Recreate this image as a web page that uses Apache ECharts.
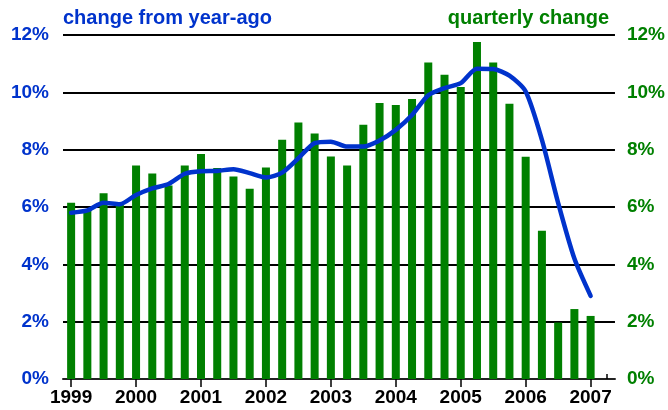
<!DOCTYPE html>
<html>
<head>
<meta charset="utf-8">
<script src="https://cdn.jsdelivr.net/npm/echarts@6/dist/echarts.min.js"></script>
<style>
html,body{margin:0;padding:0;background:#fff;}
#chart{width:668px;height:410px;}
</style>
</head>
<body>
<div id="chart"></div>
<script>
// Categories: quarters 1999Q1 .. 2007Q2 (last slot empty)
var quarters = [
  '1999Q1','1999Q2','1999Q3','1999Q4',
  '2000Q1','2000Q2','2000Q3','2000Q4',
  '2001Q1','2001Q2','2001Q3','2001Q4',
  '2002Q1','2002Q2','2002Q3','2002Q4',
  '2003Q1','2003Q2','2003Q3','2003Q4',
  '2004Q1','2004Q2','2004Q3','2004Q4',
  '2005Q1','2005Q2','2005Q3','2005Q4',
  '2006Q1','2006Q2','2006Q3','2006Q4',
  '2007Q1','2007Q2'
];
// Quarterly change (%), green bars
var quarterlyChange = [
  6.15, 5.90, 6.48, 6.13,
  7.45, 7.17, 6.75, 7.45,
  7.85, 7.36, 7.06, 6.64,
  7.38, 8.35, 8.95, 8.56,
  7.76, 7.45, 8.87, 9.63,
  9.56, 9.77, 11.04, 10.61,
  10.19, 11.76, 11.04, 9.60,
  7.75, 5.17, 1.97, 2.44,
  2.20, null
];
// Change from year-ago (%), blue line
var yearAgoChange = [
  5.80, 5.88, 6.15, 6.10,
  6.42, 6.65, 6.80, 7.16,
  7.25, 7.26, 7.32, 7.18,
  7.03, 7.20, 7.70, 8.23,
  8.28, 8.11, 8.11, 8.32,
  8.69, 9.21, 9.90, 10.15,
  10.32, 10.82, 10.81, 10.58,
  10.03, 8.34, 6.14, 4.20,
  2.90, null
];
var yTicks = [0, 2, 4, 6, 8, 10, 12];

var FONT = '"Liberation Sans", Arial, Helvetica, sans-serif';
var BLUE = '#0033cc';
var GREEN = '#008000';

var chart = echarts.init(document.getElementById('chart'), null, {renderer: 'canvas'});
var yMax = yTicks[yTicks.length - 1];
var yStep = yTicks[1] - yTicks[0];

function isYear(i) { return i % 4 === 0 && i < 33; }

chart.setOption({
  animation: false,
  backgroundColor: '#ffffff',
  grid: {left: 63, right: 52, top: 35, bottom: 31, containLabel: false},
  graphic: [
    {type: 'text', left: 63, top: 8, style: {text: 'change from year-ago', fill: BLUE, font: 'bold 20px ' + FONT}},
    {type: 'text', right: 59, top: 8, style: {text: 'quarterly change', fill: GREEN, font: 'bold 20px ' + FONT}}
  ],
  xAxis: [
    {
      type: 'category',
      data: quarters,
      boundaryGap: true,
      axisLine: {show: true, lineStyle: {color: '#222', width: 2}},
      axisTick: {show: true, alignWithLabel: true, length: 8, inside: false,
        interval: function (i) { return isYear(i); },
        lineStyle: {color: '#000', width: 1.5}},
      axisLabel: {show: true, margin: 9, color: '#000', fontFamily: FONT, fontWeight: 'bold', fontSize: 19,
        interval: function (i) { return isYear(i); },
        formatter: function (v) { return v.slice(0, 4); }},
      splitLine: {show: false}
    },
    {
      type: 'category',
      data: quarters,
      boundaryGap: true,
      position: 'bottom',
      axisLine: {show: false},
      axisTick: {show: true, alignWithLabel: true, length: 5, inside: true,
        interval: function (i) { return i % 4 === 0 || i === 33; },
        lineStyle: {color: '#000', width: 1.5}},
      axisLabel: {show: false},
      splitLine: {show: false}
    }
  ],
  yAxis: [
    {
      type: 'value', min: 0, max: yMax, interval: yStep, position: 'left',
      axisLine: {show: false}, axisTick: {show: false},
      splitLine: {show: true, lineStyle: {color: '#000', width: 2}},
      axisLabel: {margin: 14, color: BLUE, fontFamily: FONT, fontWeight: 'bold', fontSize: 19,
        formatter: '{value}%'}
    },
    {
      type: 'value', min: 0, max: yMax, interval: yStep, position: 'right',
      axisLine: {show: false}, axisTick: {show: false},
      splitLine: {show: false},
      axisLabel: {margin: 12, color: GREEN, fontFamily: FONT, fontWeight: 'bold', fontSize: 19,
        formatter: '{value}%'}
    }
  ],
  series: [
    {
      name: 'quarterly change', type: 'bar', xAxisIndex: 0, yAxisIndex: 1,
      data: quarterlyChange, barWidth: 8,
      itemStyle: {color: GREEN}, z: 2
    },
    {
      name: 'change from year-ago', type: 'line', xAxisIndex: 0, yAxisIndex: 0,
      data: yearAgoChange, smooth: 0.25, symbol: 'none',
      lineStyle: {color: BLUE, width: 4.5, cap: 'round', join: 'round'}, z: 3
    }
  ]
});
</script>
</body>
</html>
